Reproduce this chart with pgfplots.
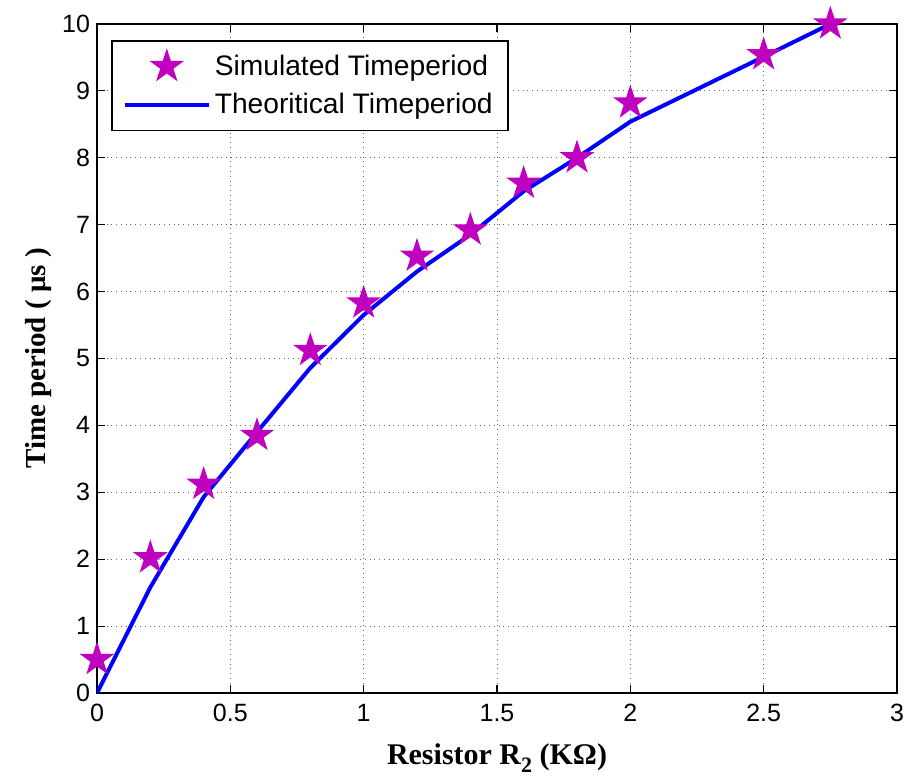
\documentclass[border=0pt]{standalone}
\usepackage{pgfplots}
\pgfplotsset{compat=1.18}
\usepackage{fontspec}
\setmainfont{Liberation Sans}
\newfontfamily\timesf{Liberation Serif}
\definecolor{mmag}{rgb}{0.75,0,0.75}
\pgfdeclareplotmark{pentagram}{%
  \pgfpathmoveto{\pgfqpointpolar{90}{\pgfplotmarksize}}%
  \pgfpathlineto{\pgfqpointpolar{126}{0.382\pgfplotmarksize}}%
  \pgfpathlineto{\pgfqpointpolar{162}{\pgfplotmarksize}}%
  \pgfpathlineto{\pgfqpointpolar{198}{0.382\pgfplotmarksize}}%
  \pgfpathlineto{\pgfqpointpolar{234}{\pgfplotmarksize}}%
  \pgfpathlineto{\pgfqpointpolar{270}{0.382\pgfplotmarksize}}%
  \pgfpathlineto{\pgfqpointpolar{306}{\pgfplotmarksize}}%
  \pgfpathlineto{\pgfqpointpolar{342}{0.382\pgfplotmarksize}}%
  \pgfpathlineto{\pgfqpointpolar{18}{\pgfplotmarksize}}%
  \pgfpathlineto{\pgfqpointpolar{54}{0.382\pgfplotmarksize}}%
  \pgfpathclose
  \pgfusepathqfillstroke
}
\pgfplotsset{
  simleg/.style={legend image code/.code={\draw[mark repeat=2,mark phase=2,##1] plot coordinates {(0bp,0bp) (21bp,0bp) (42bp,0bp)};}},
  theoleg/.style={legend image code/.code={\draw[##1] (0bp,0bp) -- (42bp,0bp);}},
}
\begin{document}
\begin{tikzpicture}
\begin{axis}[
  scale only axis,
  width=400bp, height=334.5bp,
  xmin=0, xmax=3, ymin=0, ymax=10,
  xtick={0,0.5,1,1.5,2,2.5,3},
  ytick={0,1,2,3,4,5,6,7,8,9,10},
  xticklabels={0,0.5,1,1.5,2,2.5,3},
  yticklabels={0,1,2,3,4,5,6,7,8,9,10},
  tick align=inside,
  major tick length=4bp,
  tick style={black, line width=0.6bp},
  axis line style={black, line width=1bp},
  grid=major,
  grid style={black!60, dotted, line width=0.5bp},
  tick label style={font=\fontsize{12.5bp}{14bp}\selectfont},
  xticklabel style={yshift=-2bp},
  /pgf/number format/assume math mode=true,
  xlabel={\timesf\bfseries Resistor R\raisebox{-4bp}{\fontsize{11bp}{12bp}\selectfont 2} (KΩ)},
  ylabel={\timesf\bfseries Time period ( μs )},
  xlabel style={font=\fontsize{15bp}{16bp}\selectfont, at={(axis description cs:0.5,0)}, anchor=north, yshift=-22bp},
  ylabel style={font=\fontsize{14.5bp}{16bp}\selectfont, at={(axis description cs:0,0.5)}, anchor=south, yshift=19bp},
  legend style={at={(axis description cs:0.0175,0.976)}, anchor=north west,
    draw=black, line width=0.8bp, fill=white,
    font=\fontsize{14.1bp}{16bp}\selectfont,
    inner xsep=5.5bp, inner ysep=5bp, row sep=3.5bp},
  legend cell align=left,
]
\addplot[only marks, mark=pentagram, mark size=7.5bp, draw=mmag, fill=mmag, line width=1bp, simleg]
  coordinates {
  (0,0.5) (0.2,2.02) (0.4,3.12) (0.6,3.85) (0.8,5.12) (1.0,5.83)
  (1.2,6.53) (1.4,6.92) (1.6,7.62) (1.8,8.0) (2.0,8.82) (2.5,9.54) (2.75,10.0)
  };
\addlegendentry{Simulated Timeperiod}
\addplot[blue, line width=2bp, no marks, theoleg]
  coordinates {
  (0,0) (0.2,1.58) (0.4,2.93) (0.6,3.9) (0.8,4.86) (1.0,5.65)
  (1.2,6.3) (1.4,6.85) (1.6,7.5) (1.8,8.0) (2.0,8.54) (2.5,9.51) (2.75,10.0)
  };
\addlegendentry{Theoritical Timeperiod}
\end{axis}
\pgfresetboundingbox
\path (current axis.south west) ++(-48.5bp,-43.5bp) coordinate (bbA);
\path (current axis.north east) ++(7bp,12bp) coordinate (bbB);
\path[use as bounding box] (bbA) rectangle (bbB);
\end{tikzpicture}
\end{document}
